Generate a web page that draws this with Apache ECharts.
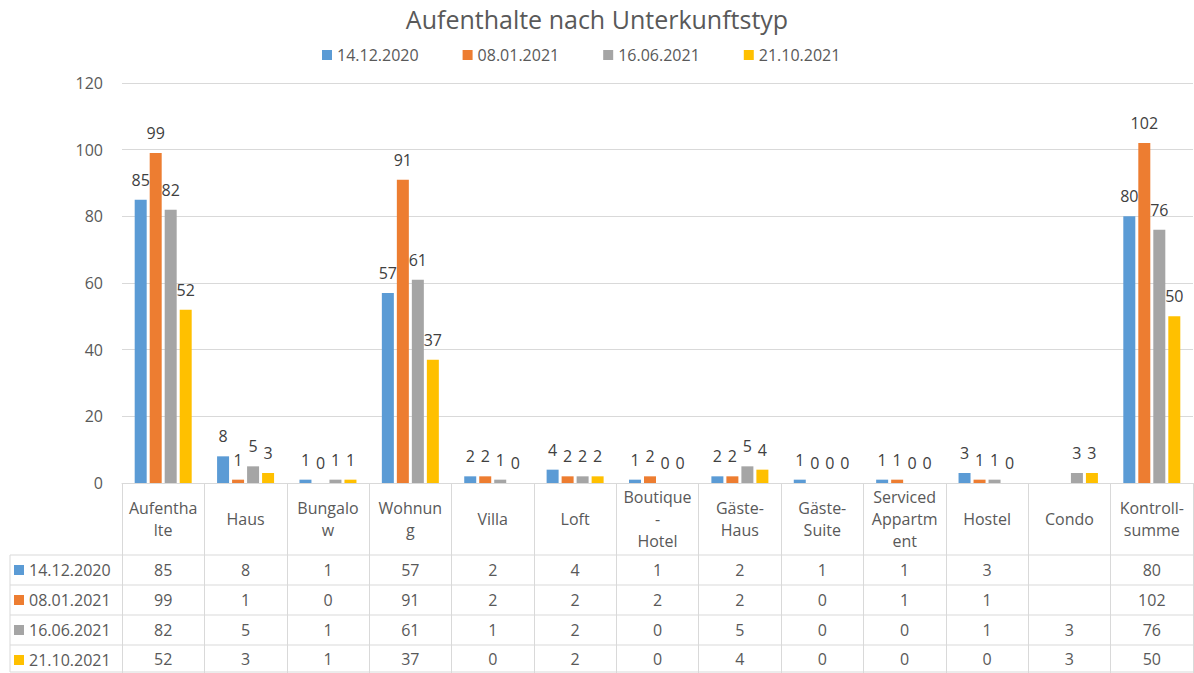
<!DOCTYPE html>
<html>
<head>
<meta charset="utf-8">
<script src="https://cdn.jsdelivr.net/npm/echarts@6/dist/echarts.min.js"></script>
<style>
html,body{margin:0;padding:0;background:#fff;}
#chart{width:1194px;height:673px;}
</style>
</head>
<body>
<div id="chart"></div>
<script>
const categories = ['Aufenthalte','Haus','Bungalow','Wohnung','Villa','Loft','Boutique-Hotel','Gäste-Haus','Gäste-Suite','Serviced Appartment','Hostel','Condo','Kontroll-summe'];
const tickLabels = ['Aufentha\nlte','Haus','Bungalo\nw','Wohnun\ng','Villa','Loft','Boutique\n-\nHotel','Gäste-\nHaus','Gäste-\nSuite','Serviced\nAppartm\nent','Hostel','Condo','Kontroll-\nsumme'];
const seriesNames = ['14.12.2020','08.01.2021','16.06.2021','21.10.2021'];
const s1 = [85, 8, 1, 57, 2, 4, 1, 2, 1, 1, 3, null, 80];
const s2 = [99, 1, 0, 91, 2, 2, 2, 2, 0, 1, 1, null, 102];
const s3 = [82, 5, 1, 61, 1, 2, 0, 5, 0, 0, 1, 3, 76];
const s4 = [52, 3, 1, 37, 0, 2, 0, 4, 0, 0, 0, 3, 50];
const yTicks = [0, 20, 40, 60, 80, 100, 120];
const colors = ['#5B9BD5','#ED7D31','#A5A5A5','#FFC000'];

const allData = [s1, s2, s3, s4];
const FONT = '"Open Sans", "Noto Sans", sans-serif';
const TXT = '#595959';
const LINE = '#d9d9d9';
const FS = 16;

const chart = echarts.init(document.getElementById('chart'), null, {renderer: 'svg'});

const rowOffsets = [87, 117, 147, 176];
const tableAxes = allData.map((d, i) => ({
  type: 'category',
  data: categories,
  position: 'bottom',
  gridIndex: 0,
  offset: rowOffsets[i],
  axisLine: {show: false},
  axisTick: {show: false},
  axisLabel: {
    interval: 0, margin: 0, verticalAlign: 'middle',
    color: TXT, fontSize: FS, fontFamily: FONT,
    formatter: (v, idx) => d[idx] == null ? '' : String(d[idx])
  }
}));

const option = {
  backgroundColor: '#fff',
  animation: false,
  color: colors,
  title: {
    text: 'Aufenthalte nach Unterkunftstyp',
    left: 'center', top: 1,
    textStyle: {color: TXT, fontSize: 25, fontWeight: 'normal', fontFamily: FONT}
  },
  legend: [{
    data: seriesNames,
    top: 42, left: 317,
    icon: 'rect', itemWidth: 10, itemHeight: 10, itemGap: 44,
    textStyle: {color: TXT, fontSize: FS, fontFamily: FONT}
  }, {
    data: seriesNames,
    orient: 'vertical',
    left: 14, top: 562,
    icon: 'rect', itemWidth: 10, itemHeight: 10, itemGap: 14, padding: 0,
    selectedMode: false,
    textStyle: {color: TXT, fontSize: FS, fontFamily: FONT, lineHeight: 16}
  }],
  grid: {left: 122, right: 1, top: 83, bottom: 190, containLabel: false},
  xAxis: [{
    type: 'category',
    data: categories,
    axisLine: {show: true, lineStyle: {color: LINE}},
    axisTick: {show: true, length: 190, lineStyle: {color: LINE}},
    axisLabel: {
      interval: 0, margin: 36, verticalAlign: 'middle', lineHeight: 22,
      color: TXT, fontSize: FS, fontFamily: FONT,
      formatter: (v, idx) => tickLabels[idx]
    }
  }].concat(tableAxes),
  yAxis: {
    type: 'value', min: yTicks[0], max: yTicks[yTicks.length - 1], interval: 20,
    axisLine: {show: false}, axisTick: {show: false},
    axisLabel: {color: TXT, fontSize: FS, fontFamily: FONT, margin: 19},
    splitLine: {lineStyle: {color: LINE}}
  },
  series: allData.map((d, i) => ({
    name: seriesNames[i],
    type: 'bar',
    xAxisIndex: 0,
    data: d,
    barWidth: 12,
    barGap: '25%',
    label: {show: true, position: 'top', distance: 12, color: '#404040', fontSize: FS, fontFamily: FONT}
  })),
  graphic: [555, 585, 615, 645, 672].map(y => ({
    type: 'line', shape: {x1: 10, y1: y, x2: 1193, y2: y},
    style: {stroke: LINE, lineWidth: 1}
  })).concat([{
    type: 'line', shape: {x1: 10, y1: 555, x2: 10, y2: 672},
    style: {stroke: LINE, lineWidth: 1}
  }])
};
chart.setOption(option);
</script>
</body>
</html>
